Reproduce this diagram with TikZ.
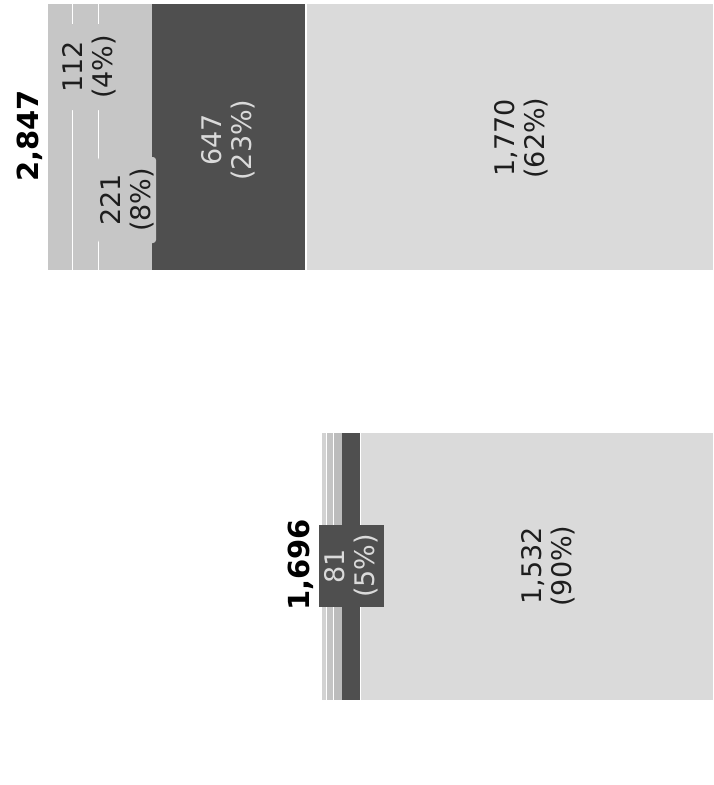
\documentclass[tikz,border=0pt]{standalone}
\usepackage{fontspec}
\setmainfont{DejaVu Sans}
\definecolor{segA}{HTML}{C6C6C6}
\definecolor{segB}{HTML}{DADADA}
\definecolor{segD}{HTML}{4F4F4F}
\definecolor{segT1}{HTML}{D2D2D2}
\definecolor{segT2}{HTML}{C4C4C4}
\definecolor{segT3}{HTML}{BCBCBC}
\definecolor{txt}{HTML}{1E1E1E}
\tikzset{
  seg/.style={draw=none},
  sep/.style={draw=white, line width=1.6pt},
  lbl/.style={rotate=90, align=center, text=txt, inner sep=0pt,
    font=\fontsize{27}{30}\selectfont},
  lblbox/.style={lbl, minimum width=86pt, minimum height=58pt, rounded corners=3pt},
  total/.style={rotate=90, text=black, inner sep=0pt,
    font=\fontsize{29}{33}\selectfont\bfseries},
}
\begin{document}
\begin{tikzpicture}[x=1pt, y=-1pt]
\useasboundingbox (0,0) rectangle (713,785);
% ---------- bar 1 ----------
\fill[segA] (48,4) rectangle (152,270);
\fill[segD] (152,4) rectangle (305,270);
\fill[segB] (307,4) rectangle (713,270);
\draw[sep] (72.5,4) -- (72.5,270);
\draw[sep] (98.5,4) -- (98.5,270);
\node[lblbox, fill=segA] (l112) at (89,67) {112\\(4\%)};
\node[lblbox, fill=segA] (l221) at (127,200) {221\\(8\%)};
\node[lbl, text=segB] (l647) at (228,140) {647\\(23\%)};
\node[lbl] (l1770) at (521,138) {1,770\\(62\%)};
\node[total] (t1) at (30,136) {2,847};
% ---------- bar 2 ----------
\fill[segT1] (322,433) rectangle (325.5,700);
\fill[segT2] (327,433) rectangle (332.5,700);
\fill[segT3] (334,433) rectangle (342,700);
\fill[segD] (342,433) rectangle (359.5,700);
\fill[segB] (361,433) rectangle (713,700);
\node[lbl, fill=segD, text=segB, minimum width=82pt, minimum height=65pt] (l81) at (351,566) {81\\(5\%)};
\node[lbl] (l1532) at (548,566) {1,532\\(90\%)};
\node[total] (t2) at (301,565) {1,696};
\end{tikzpicture}
\end{document}
